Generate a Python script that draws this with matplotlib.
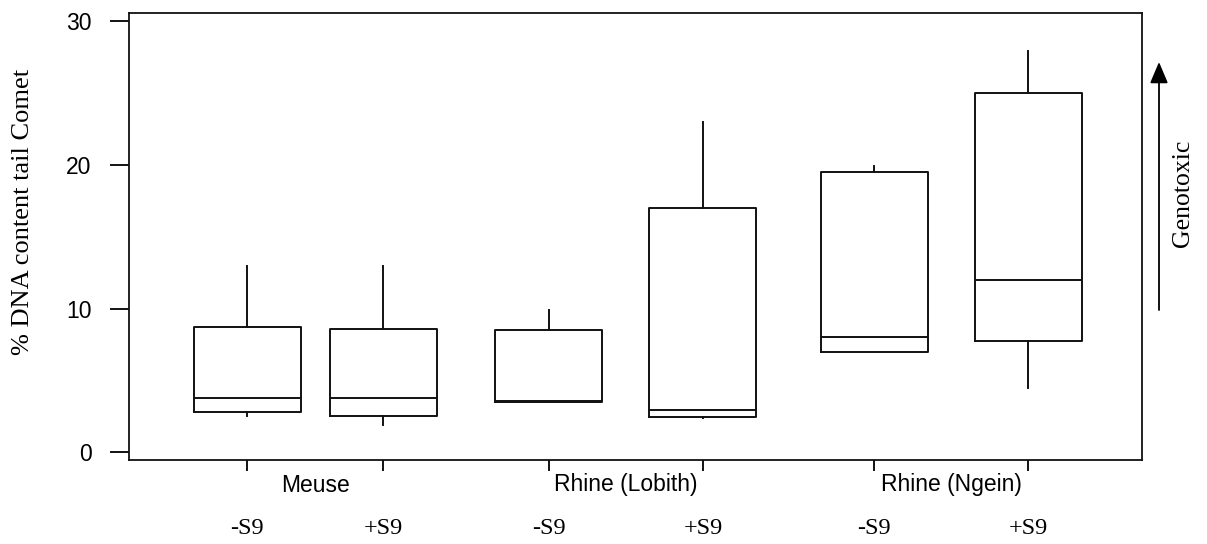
import matplotlib
matplotlib.use("Agg")
import matplotlib.pyplot as plt
import matplotlib.transforms as mtransforms

# ---- data ----
groups = ["Meuse", "Rhine (Lobith)", "Rhine (Ngein)"]
conditions = ["-S9", "+S9", "-S9", "+S9", "-S9", "+S9"]
whisker_low = [2.55, 1.9, 3.5, 2.4, 6.95, 4.5]
q1 = [2.8, 2.5, 3.5, 2.45, 6.95, 7.75]
median = [3.8, 3.8, 3.6, 2.95, 8.0, 12.0]
q3 = [8.7, 8.55, 8.5, 17.0, 19.5, 25.0]
whisker_high = [13.0, 13.0, 9.9, 23.0, 19.9, 27.9]
y_ticks = [0, 10, 20, 30]
y_label = "% DNA content tail Comet"
arrow_label = "Genotoxic"

# ---- layout ----
positions = [1.0, 1.871, 2.933, 3.919, 5.014, 6.0]
box_width = 0.685

fig = plt.figure(figsize=(12.07, 5.44), dpi=100)
ax = fig.add_axes([0.1069, 0.1544, 0.8393, 0.8226])

stats = []
for i in range(len(conditions)):
    stats.append(dict(whislo=whisker_low[i], q1=q1[i], med=median[i],
                      q3=q3[i], whishi=whisker_high[i], fliers=[]))

lw = 1.4
ax.bxp(stats, positions=positions, widths=box_width, showcaps=False,
       showfliers=False, patch_artist=False,
       boxprops=dict(color="#111111", linewidth=lw),
       whiskerprops=dict(color="#111111", linewidth=lw),
       medianprops=dict(color="#111111", linewidth=lw))

ax.set_xlim(0.2446, 6.730)
ax.set_ylim(-0.53, 30.6)

for s in ax.spines.values():
    s.set_linewidth(1.3)
    s.set_color("#111111")

ax.set_yticks(y_ticks)
ax.set_yticklabels([str(t) for t in y_ticks], fontfamily="Liberation Sans", fontsize=16.5)
ax.tick_params(axis="y", direction="out", length=14, width=1.3, pad=13)
ax.set_xticks(positions)
ax.set_xticklabels([])
ax.tick_params(axis="x", direction="out", length=8, width=1.3)

fig.text(23 / 1207, 1 - 212 / 544, y_label, rotation=90, ha="center", va="center",
         fontfamily="Liberation Serif", fontsize=19)

trans = mtransforms.blended_transform_factory(ax.transData, fig.transFigure)
for g, name in enumerate(groups):
    xc = (positions[2 * g] + positions[2 * g + 1]) / 2
    ax.text(xc, 1 - 485 / 544, name, transform=trans, ha="center", va="center",
            fontfamily="Liberation Sans", fontsize=16.5)
for p, c in zip(positions, conditions):
    ax.text(p, 1 - 528 / 544, c, transform=trans, ha="center", va="center",
            fontfamily="Liberation Serif", fontsize=17.5)

# Genotoxic arrow
ax.annotate("", xy=(1159 / 1207, 1 - 62 / 544), xytext=(1159 / 1207, 1 - 310 / 544),
            xycoords="figure fraction", textcoords="figure fraction",
            arrowprops=dict(arrowstyle="-|>,head_length=1.3,head_width=0.55",
                            color="black", linewidth=1.3, shrinkA=0, shrinkB=0))
fig.text(1183 / 1207, 1 - 193 / 544, arrow_label, rotation=90, ha="center", va="center",
         fontfamily="Liberation Serif", fontsize=18.5)

fig.savefig("out.png", dpi=100)
